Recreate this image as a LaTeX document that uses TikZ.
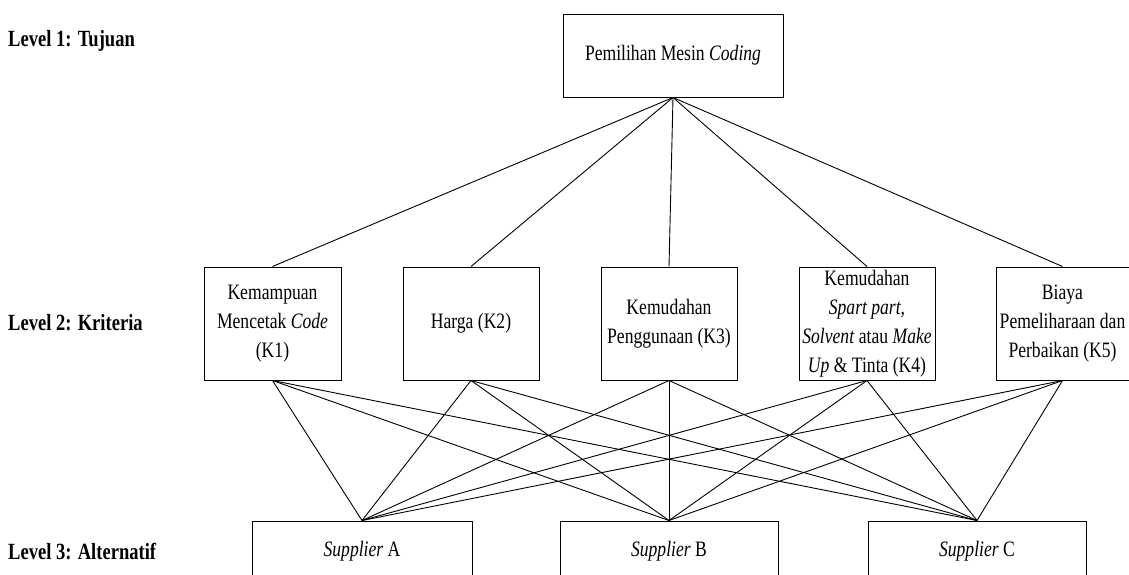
\documentclass[tikz,border=0pt]{standalone}
\usepackage{fontspec}
\setmainfont{Liberation Serif}[FakeStretch=0.8]
\begin{document}
\begin{tikzpicture}[x=1pt,y=-1pt,
  box/.style={draw, line width=1pt, align=center, inner sep=0pt,
    font=\fontsize{22}{29}\selectfont},
  crit/.style={box, minimum height=113pt},
  alt/.style={box, minimum height=60pt},
  lvl/.style={anchor=west, inner sep=0pt, font=\fontsize{23.2}{29}\selectfont\bfseries},
  link/.style={line width=0.9pt}]
\useasboundingbox (0,0) rectangle (1129,574);
\clip (0,0) rectangle (1129,574);
% level labels
\node[lvl] (l1) at (8,41) {Level 1: Tujuan};
\node[lvl] (l2) at (8,323) {Level 2: Kriteria};
\node[lvl] (l3) at (8,551) {Level 3: Alternatif};
% goal
\node[box, minimum width=220pt, minimum height=83pt] (top) at (673,55.5) {Pemilihan Mesin \textit{Coding}};
% criteria
\node[crit, minimum width=137pt] (k1) at (272.5,323.5) {Kemampuan\\Mencetak \textit{Code}\\(K1)};
\node[crit, minimum width=136pt] (k2) at (471,323.5) {Harga (K2)};
\node[crit, minimum width=136pt] (k3) at (669,323.5) {Kemudahan\\Penggunaan (K3)};
\node[crit, minimum width=136pt] (k4) at (867,323.5) {Kemudahan\\\textit{Spart part,}\\\textit{Solvent} atau \textit{Make}\\\textit{Up} \& Tinta (K4)};
\node[crit, minimum width=133pt] (k5) at (1062.5,323.5) {Biaya\\Pemeliharaan dan\\Perbaikan (K5)};
% alternatives
\node[alt, minimum width=220pt] (sa) at (362,551) {\textit{Supplier} A};
\node[alt, minimum width=218pt] (sb) at (669,551) {\textit{Supplier} B};
\node[alt, minimum width=218pt] (sc) at (977,551) {\textit{Supplier} C};
% links
\foreach \k in {k1,k2,k3,k4,k5}{
  \draw[link] (top.south) -- (\k.north);
  \foreach \s in {sa,sb,sc}{
    \draw[link] (\k.south) -- (\s.north);
  }
}
\end{tikzpicture}
\end{document}
